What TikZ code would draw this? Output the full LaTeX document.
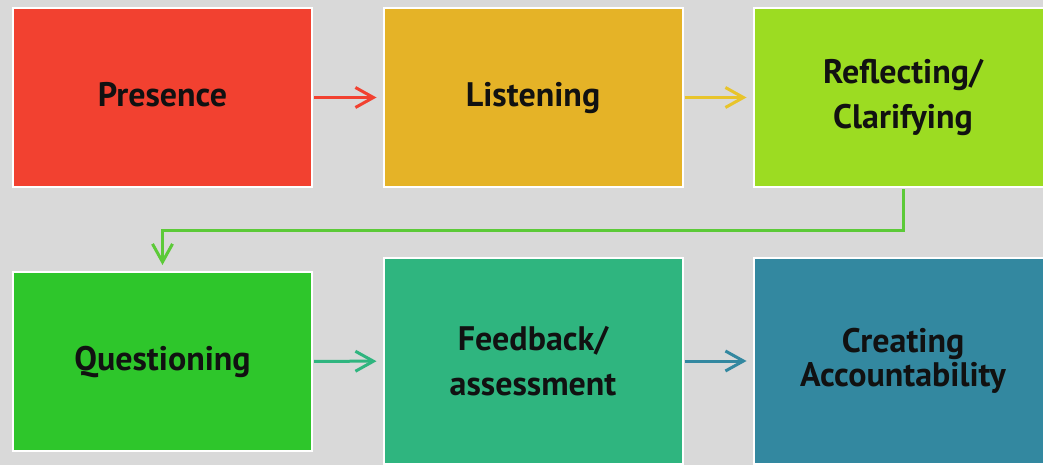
\documentclass[tikz,border=0pt]{standalone}
\usepackage{fontspec}
\setmainfont{PT Sans}
\usetikzlibrary{arrows.meta}
\definecolor{BgGrey}{HTML}{D9D9D9}
\definecolor{PresRed}{HTML}{F24130}
\definecolor{ListYellow}{HTML}{E5B327}
\definecolor{ReflLime}{HTML}{9CDC22}
\definecolor{QuesGreen}{HTML}{2EC62B}
\definecolor{FeedTeal}{HTML}{2FB57F}
\definecolor{CreaBlue}{HTML}{3388A0}
\definecolor{YellowArrow}{HTML}{E8C42B}
\definecolor{ElbowGreen}{HTML}{5CCA38}
\definecolor{TextBlack}{HTML}{111111}

\begin{document}
\begin{tikzpicture}[x=1pt, y=-1pt,
	stage/.style={rectangle, draw=white, line width=2pt, minimum width=299pt, minimum height=179pt,
		align=center, text=TextBlack, font=\bfseries\fontsize{34}{45}\selectfont},
	oneline/.style={text height=25pt, text depth=7pt},
	tall/.style={minimum height=206pt},
	link/.style={line width=3pt, -{Straight Barb[length=18pt, width=20pt]}, shorten >=6pt, shorten <=1pt}]
	% background and frame
	\fill[BgGrey] (0,0) rectangle (1043,465);
	\useasboundingbox (0,0) rectangle (1043,465);
	\clip (0,0) rectangle (1043,465);

	% top row
	\node[stage, oneline, fill=PresRed] (presence) at (162.5,97.5) {Presence};
	\node[stage, oneline, fill=ListYellow] (listening) at (533,97.5) {Listening};
	\node[stage, fill=ReflLime] (reflecting) at (903,97.5) {Reflecting/\\Clarifying};

	% bottom row
	\node[stage, oneline, fill=QuesGreen] (questioning) at (162.5,361.5) {Questioning};
	\node[stage, tall, fill=FeedTeal] (feedback) at (533,361) {Feedback/\\assessment};
	\node[stage, tall, fill=CreaBlue, font=\bfseries\fontsize{34}{34}\selectfont] (creating) at (903,361) {Creating\\Accountability};

	% arrows
	\draw[link, PresRed] (presence) -- (listening);
	\draw[link, YellowArrow] (listening) -- (reflecting);
	\draw[link, ElbowGreen, line join=miter] (reflecting.south) -- ++(0,42) -| (questioning.north);
	\draw[link, FeedTeal] (questioning) -- (feedback);
	\draw[link, CreaBlue] (feedback) -- (creating);
\end{tikzpicture}
\end{document}
